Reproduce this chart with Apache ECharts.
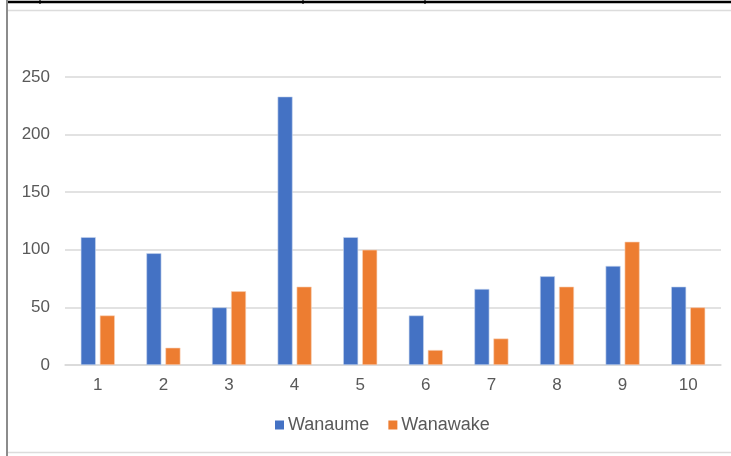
<!DOCTYPE html>
<html><head><meta charset="utf-8">
<script src="https://cdn.jsdelivr.net/npm/echarts@6/dist/echarts.min.js"></script>
<style>html,body{margin:0;padding:0;background:#fff}#c{width:731px;height:456px}</style>
</head><body><div id="c"></div>
<script>
var categories = ['1','2','3','4','5','6','7','8','9','10'];
var wanaume = [111, 97, 50, 233, 111, 43, 66, 77, 86, 68];
var wanawake = [43, 15, 64, 68, 100, 13, 23, 68, 107, 50];
var chart = echarts.init(document.getElementById('c'));
var font = 'Liberation Sans, Arial, sans-serif';
chart.setOption({
  animation: false,
  textStyle: {fontFamily: font},
  grid: {left: 65, right: 10, top: 77, bottom: 91, containLabel: false},
  xAxis: {
    type: 'category', data: categories,
    axisLine: {show: true, lineStyle: {color: '#d9d9d9', width: 1.5}},
    axisTick: {show: false},
    axisLabel: {color: '#595959', fontSize: 17, margin: 12, fontFamily: font}
  },
  yAxis: {
    type: 'value', min: 0, max: 250, interval: 50,
    axisLine: {show: false}, axisTick: {show: false},
    splitLine: {lineStyle: {color: '#d9d9d9', width: 1.5}},
    axisLabel: {color: '#595959', fontSize: 17, margin: 15, fontFamily: font}
  },
  legend: {
    top: 411, left: 270, itemWidth: 9, itemHeight: 9, itemGap: 19,
    icon: 'rect',
    itemStyle: {borderWidth: 0},
    textStyle: {color: '#595959', fontSize: 18, fontFamily: font, padding: [0, 0, 0, -1]},
    data: ['Wanaume', 'Wanawake']
  },
  series: [
    {name: 'Wanaume', type: 'bar', data: wanaume, barWidth: 15, barGap: '27%',
     itemStyle: {color: '#4472C4', borderColor: '#c9d6ee', borderWidth: 0.6}},
    {name: 'Wanawake', type: 'bar', data: wanawake, barWidth: 15,
     itemStyle: {color: '#ED7D31', borderColor: '#f8d2b8', borderWidth: 0.6}}
  ],
  graphic: [
    {type: 'line', shape: {x1: 7, y1: 0, x2: 7, y2: 456}, style: {stroke: '#666', lineWidth: 1.5}},
    {type: 'line', shape: {x1: 8, y1: 2, x2: 731, y2: 2}, style: {stroke: '#000', lineWidth: 2.5}},
    {type: 'line', shape: {x1: 40, y1: 0, x2: 40, y2: 4}, style: {stroke: '#000', lineWidth: 1.2}},
    {type: 'line', shape: {x1: 303, y1: 0, x2: 303, y2: 4}, style: {stroke: '#000', lineWidth: 1.2}},
    {type: 'line', shape: {x1: 425, y1: 0, x2: 425, y2: 4}, style: {stroke: '#000', lineWidth: 1.2}},
    {type: 'line', shape: {x1: 8, y1: 10.5, x2: 731, y2: 10.5}, style: {stroke: '#dcdcdc', lineWidth: 1.5}},
    {type: 'line', shape: {x1: 8, y1: 452.5, x2: 731, y2: 452.5}, style: {stroke: '#dcdcdc', lineWidth: 1.5}}
  ]
});
</script></body></html>
